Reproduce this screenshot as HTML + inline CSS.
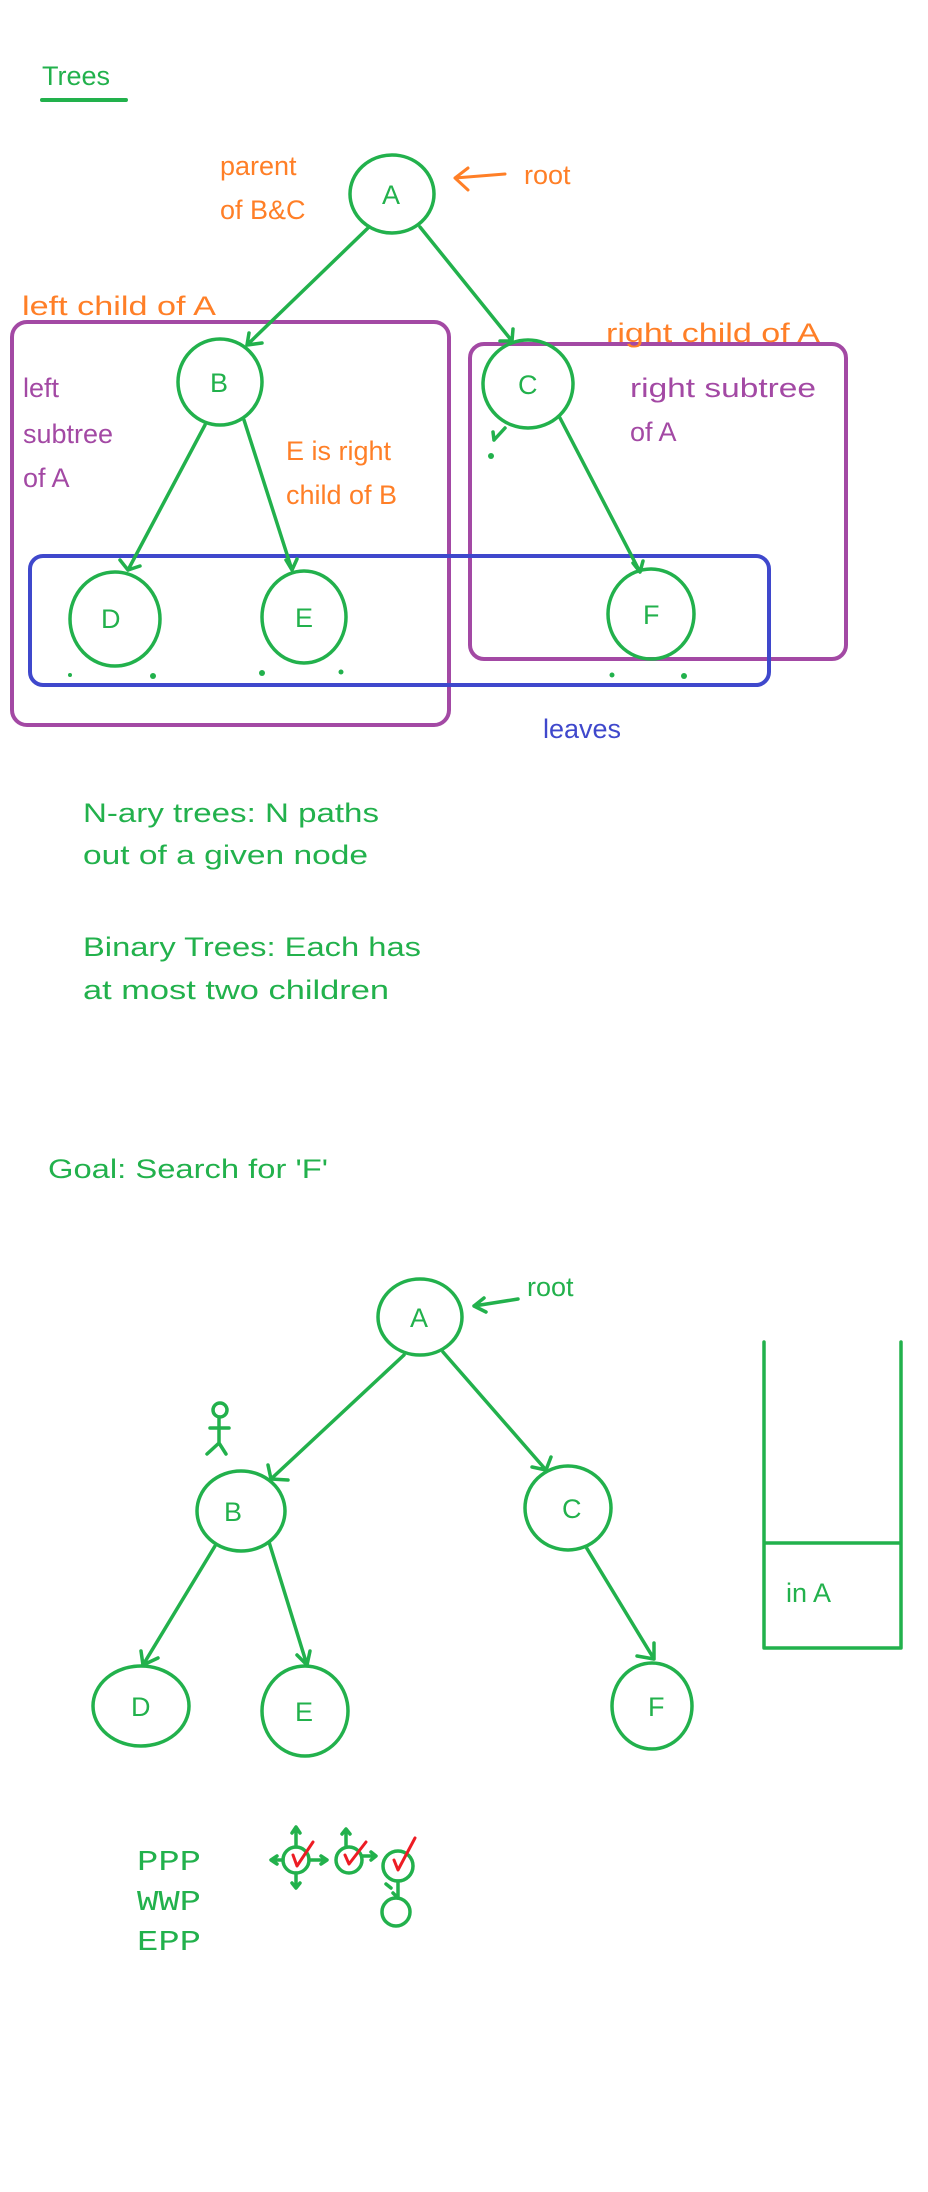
<!DOCTYPE html>
<html><head><meta charset="utf-8"><style>
html,body{margin:0;padding:0;background:#fff;}
svg{display:block;}
text{font-family:"Liberation Sans",sans-serif;}
</style></head><body>
<svg width="928" height="2192" viewBox="0 0 928 2192" xmlns="http://www.w3.org/2000/svg">
<g fill="none" stroke-linecap="round" stroke-linejoin="round">
<line x1="42" y1="100" x2="126" y2="100" stroke="#22b14c" stroke-width="4"/>
<rect x="12" y="322" width="437" height="403" rx="15" stroke="#a349a4" stroke-width="4"/>
<rect x="470" y="344" width="376" height="315" rx="14" stroke="#a349a4" stroke-width="4"/>
<rect x="30" y="556" width="739" height="129" rx="13" stroke="#3f48cc" stroke-width="4"/>
<g stroke="#22b14c" stroke-width="3.5">
<ellipse cx="392" cy="194" rx="42" ry="39"/>
<ellipse cx="220" cy="382" rx="42" ry="43"/>
<ellipse cx="528" cy="384" rx="45" ry="44"/>
<ellipse cx="115" cy="619" rx="45" ry="47"/>
<ellipse cx="304" cy="617" rx="42" ry="46"/>
<ellipse cx="651" cy="614" rx="43" ry="45"/>
<path d="M368 228 L247 345 M247 345 L249 333 M247 345 L262 343"/>
<path d="M420 227 L512 341 M512 341 L513 329 M512 341 L500 341"/>
<path d="M205 425 L128 570 M128 570 L120 560 M128 570 L140 566"/>
<path d="M244 420 L292 570 M292 570 L286 560 M292 570 L297 559"/>
<path d="M560 418 L640 572 M640 572 L633 563 M640 572 L643 561"/>
<path d="M505 428 L494 440 M494 440 L493 432"/>
</g>
<g fill="#22b14c">
<circle cx="491" cy="456" r="3"/>
<circle cx="70" cy="675" r="2"/><circle cx="153" cy="676" r="3"/>
<circle cx="262" cy="673" r="3"/><circle cx="341" cy="672" r="2.5"/>
<circle cx="612" cy="675" r="2.5"/><circle cx="684" cy="676" r="3"/>
</g>
<path d="M505 174 L455 178 M455 178 L468 168 M455 178 L468 190" stroke="#ff7f27" stroke-width="3"/>
<g stroke="#22b14c" stroke-width="3.5">
<ellipse cx="420" cy="1317" rx="42" ry="38"/>
<ellipse cx="241" cy="1511" rx="44" ry="40"/>
<ellipse cx="568" cy="1508" rx="43" ry="42"/>
<ellipse cx="141" cy="1706" rx="48" ry="40"/>
<ellipse cx="305" cy="1711" rx="43" ry="45"/>
<ellipse cx="652" cy="1706" rx="40" ry="43"/>
<path d="M404 1355 L271 1479 M271 1479 L268 1465 M271 1479 L288 1480"/>
<path d="M443 1352 L546 1470 M546 1470 L551 1457 M546 1470 L532 1467"/>
<path d="M215 1546 L143 1665 M143 1665 L141 1651 M143 1665 L158 1658"/>
<path d="M269 1542 L307 1665 M307 1665 L297 1655 M307 1665 L310 1651"/>
<path d="M586 1547 L654 1659 M654 1659 L654 1643 M654 1659 L637 1656"/>
<path d="M518 1299 L474 1306 M474 1306 L484 1298 M474 1306 L486 1312"/>
<circle cx="220" cy="1410" r="7"/>
<path d="M219 1417 L219 1443 M210 1428 L229 1428 M219 1443 L207 1454 M219 1443 L226 1454"/>
<path d="M764 1342 L764 1648 L901 1648 L901 1342 M764 1543 L901 1543"/>
<circle cx="296" cy="1860" r="13"/>
<circle cx="349" cy="1860" r="13"/>
<circle cx="398" cy="1866" r="15"/>
<circle cx="396" cy="1912" r="14"/>
<path d="M296 1847 L296 1828 M292 1833 L296 1827 L300 1833 M283 1860 L272 1860 M277 1856 L271 1860 L277 1864 M309 1860 L326 1860 M321 1856 L327 1860 L321 1864 M296 1873 L296 1887 M292 1883 L296 1888 L300 1883"/>
<path d="M346 1847 L346 1830 M342 1834 L346 1829 L350 1834 M362 1856 L375 1856 M371 1852 L376 1856 L371 1860"/>
<path d="M398 1881 L398 1897 M393 1893 L398 1898 M391 1888 L386 1884"/>
</g>
<g stroke="#ed1c24" stroke-width="3">
<path d="M293 1855 L297 1866 L313 1842"/>
<path d="M345 1855 L349 1864 L366 1842"/>
<path d="M394 1860 L398 1870 L415 1838"/>
</g>
</g>
<text x="42" y="85" font-size="27" fill="#22b14c">Trees</text>
<text x="220" y="175" font-size="27" fill="#ff7f27">parent</text>
<text x="220" y="219" font-size="27" fill="#ff7f27">of B&amp;C</text>
<text x="524" y="184" font-size="27" fill="#ff7f27">root</text>
<text x="382" y="204" font-size="27" fill="#22b14c">A</text>
<text x="22" y="315" font-size="27" fill="#ff7f27" textLength="194" lengthAdjust="spacingAndGlyphs">left child of A</text>
<text x="606" y="342" font-size="27" fill="#ff7f27" textLength="214" lengthAdjust="spacingAndGlyphs">right child of A</text>
<text x="210" y="392" font-size="27" fill="#22b14c">B</text>
<text x="518" y="394" font-size="27" fill="#22b14c">C</text>
<text x="23" y="397" font-size="27" fill="#a349a4">left</text>
<text x="23" y="443" font-size="27" fill="#a349a4">subtree</text>
<text x="23" y="487" font-size="27" fill="#a349a4">of A</text>
<text x="630" y="397" font-size="27" fill="#a349a4" textLength="186" lengthAdjust="spacingAndGlyphs">right subtree</text>
<text x="630" y="441" font-size="27" fill="#a349a4">of A</text>
<text x="286" y="460" font-size="27" fill="#ff7f27">E is right</text>
<text x="286" y="504" font-size="27" fill="#ff7f27">child of B</text>
<text x="101" y="628" font-size="27" fill="#22b14c">D</text>
<text x="295" y="627" font-size="27" fill="#22b14c">E</text>
<text x="643" y="624" font-size="27" fill="#22b14c">F</text>
<text x="543" y="738" font-size="27" fill="#3f48cc">leaves</text>
<text x="83" y="822" font-size="27" fill="#22b14c" textLength="296" lengthAdjust="spacingAndGlyphs">N-ary trees: N paths</text>
<text x="83" y="864" font-size="27" fill="#22b14c" textLength="285" lengthAdjust="spacingAndGlyphs">out of a given node</text>
<text x="83" y="956" font-size="27" fill="#22b14c" textLength="338" lengthAdjust="spacingAndGlyphs">Binary  Trees: Each has</text>
<text x="83" y="999" font-size="27" fill="#22b14c" textLength="306" lengthAdjust="spacingAndGlyphs">at most two children</text>
<text x="48" y="1178" font-size="27" fill="#22b14c" textLength="280" lengthAdjust="spacingAndGlyphs">Goal: Search for 'F'</text>
<text x="527" y="1296" font-size="27" fill="#22b14c">root</text>
<text x="410" y="1327" font-size="27" fill="#22b14c">A</text>
<text x="224" y="1521" font-size="27" fill="#22b14c">B</text>
<text x="562" y="1518" font-size="27" fill="#22b14c">C</text>
<text x="131" y="1716" font-size="27" fill="#22b14c">D</text>
<text x="295" y="1721" font-size="27" fill="#22b14c">E</text>
<text x="648" y="1716" font-size="27" fill="#22b14c">F</text>
<text x="786" y="1602" font-size="27" fill="#22b14c">in A</text>
<text x="137" y="1870" font-size="29" fill="#22b14c" style="font-family:'Liberation Mono',monospace" textLength="64" lengthAdjust="spacingAndGlyphs">PPP</text>
<text x="137" y="1910" font-size="29" fill="#22b14c" style="font-family:'Liberation Mono',monospace" textLength="64" lengthAdjust="spacingAndGlyphs">WWP</text>
<text x="137" y="1950" font-size="29" fill="#22b14c" style="font-family:'Liberation Mono',monospace" textLength="64" lengthAdjust="spacingAndGlyphs">EPP</text>
</svg>
</body></html>
